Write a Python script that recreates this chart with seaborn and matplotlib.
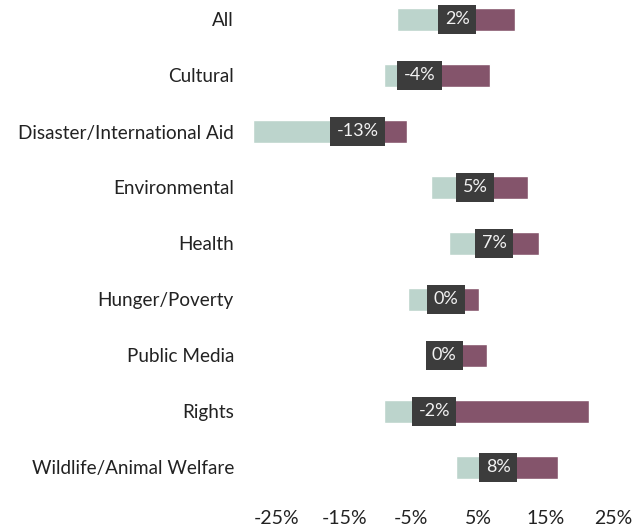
import matplotlib
matplotlib.use("Agg")
import matplotlib.pyplot as plt
import seaborn as sns
import pandas as pd
import numpy as np

categories = ["All", "Cultural", "Disaster/International Aid", "Environmental", "Health",
              "Hunger/Poverty", "Public Media", "Rights", "Wildlife/Animal Welfare"]
low = [-7.1, -9.1, -28.6, -2.1, 0.6, -5.5, -2.5, -9.1, 1.6]
mid = [1.8, -3.8, -13.0, 4.5, 7.3, 0.15, -0.1, -1.6, 7.9]
high = [10.4, 6.7, -5.7, 12.4, 14.0, 5.1, 6.25, 21.4, 16.8]
labels = ["2%", "-4%", "-13%", "5%", "7%", "0%", "0%", "-2%", "8%"]
xticks = [-25, -15, -5, 5, 15, 25]
xticklabels = ["-25%", "-15%", "-5%", "5%", "15%", "25%"]

df = pd.DataFrame({"category": categories, "low": low, "mid": mid, "high": high, "label": labels})
df["lower_span"] = df["mid"] - df["low"]
df["upper_span"] = df["high"] - df["mid"]

sns.set_theme(style="white")
plt.rcParams["font.family"] = ["Lato", "DejaVu Sans"]

W, H = 633, 528
fig = plt.figure(figsize=(W / 100, H / 100), dpi=100)
left_px, right_px = 245, 625
top_px, bot_px = 0, 498
ax = fig.add_axes([left_px / W, 1 - bot_px / H, (right_px - left_px) / W, (bot_px - top_px) / H])

teal = "#bcd4cc"
maroon = "#84546b"
box = "#3c3c3c"

sns.barplot(data=df, y="category", x="lower_span", left=df["low"].to_numpy(), order=categories,
            color=teal, saturation=1, width=0.41, ax=ax, errorbar=None)
sns.barplot(data=df, y="category", x="upper_span", left=df["mid"].to_numpy(), order=categories,
            color=maroon, saturation=1, width=0.41, ax=ax, errorbar=None)

for i, row in df.iterrows():
    ax.text(row["mid"], i, row["label"], ha="center", va="center", color="#f2f2f2",
            fontsize=13,
            bbox=dict(boxstyle="square,pad=0.35", fc=box, ec="none"))

px_per = 6.72
zero_px = 445
ax.set_xlim((left_px - zero_px) / px_per, (right_px - zero_px) / px_per)
ax.set_ylim((bot_px - 19.5) / 56, (top_px - 19.5) / 56)
ax.set_xticks(xticks)
ax.set_xticklabels(xticklabels, fontsize=14, color="#222222")
ax.tick_params(axis="y", labelsize=13.6, colors="#222222", length=0, pad=8)
ax.tick_params(axis="x", length=0, pad=9)
ax.set_xlabel("")
ax.set_ylabel("")
sns.despine(ax=ax, left=True, bottom=True)

fig.savefig("out.png", dpi=100)
